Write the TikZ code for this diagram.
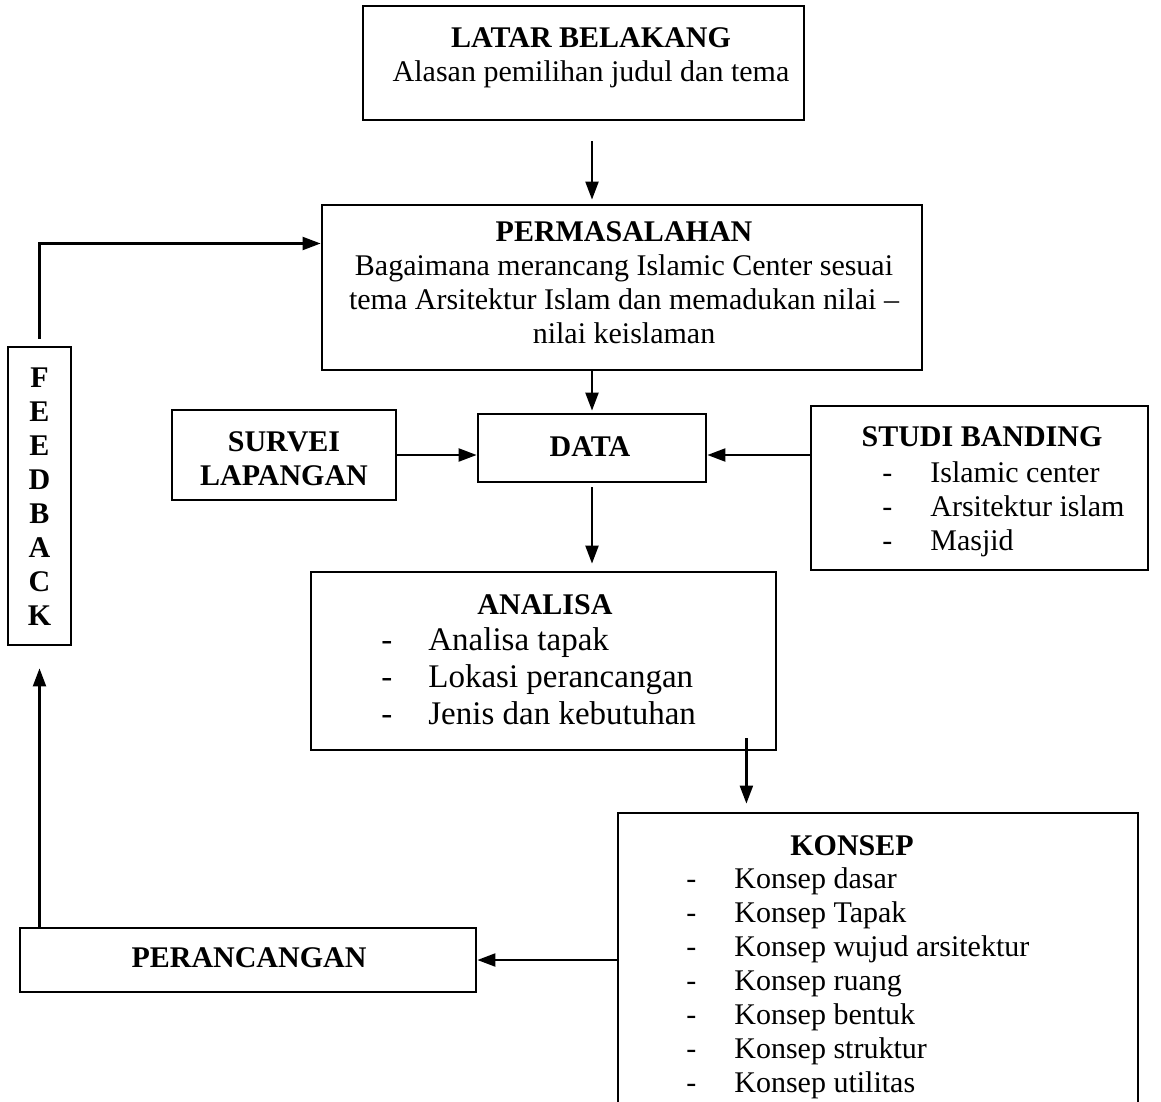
\documentclass[tikz,border=0pt]{standalone}
\usepackage{fontspec}
\setmainfont{Liberation Serif}
\usepackage{tikz}
\usetikzlibrary{arrows.meta,calc}

\tikzset{
  box/.style={draw, line width=1.4pt, inner sep=0pt},
  txt/.style={align=center, inner sep=0pt, font=\fontsize{15}{17}\selectfont},
  lst/.style={inner sep=0pt, anchor=north west, font=\fontsize{15}{17}\selectfont},
  arr/.style={line width=1.1pt, -{Triangle[length=9pt,width=6.5pt]}},
}
\newcommand{\daftar}[2]{\begin{tabular}{@{}l@{\hspace{#1}}l@{}}#2\end{tabular}}

\begin{document}
\begin{tikzpicture}[x=0.5pt,y=-0.5pt]
\useasboundingbox (0,0) rectangle (1161,1102);

% boxes
\node [box, minimum width=220.5pt, minimum height=57pt] (latar) at (583.5,63) {};
\node [box, minimum width=300pt, minimum height=82.5pt] (perm) at (622,287.5) {};
\node [box, minimum width=112pt, minimum height=45pt] (survei) at (284,455) {};
\node [box, minimum width=114pt, minimum height=34pt] (data) at (592,448) {};
\node [box, minimum width=168.5pt, minimum height=82pt] (studi) at (979.5,488) {};
\node [box, minimum width=232.5pt, minimum height=89pt] (analisa) at (543.5,661) {};
\node [box, minimum width=260pt, minimum height=151pt] (konsep) at (878,964) {};
\node [box, minimum width=228pt, minimum height=32pt] (peranc) at (248,960) {};
\node [box, minimum width=31.5pt, minimum height=149pt] (fb) at (39.5,496) {};

% texts
\node [txt] (tlatar) at (591,58) {\textbf{LATAR BELAKANG}\\Alasan pemilihan judul dan tema};
\node [txt] (tperm) at (624,283) {\textbf{PERMASALAHAN}\\Bagaimana merancang Islamic Center sesuai\\tema Arsitektur Islam dan memadukan nilai --\\nilai keislaman};
\node [txt] (tsurvei) at (284,459) {\textbf{SURVEI}\\\textbf{LAPANGAN}};
\node [txt] (tdata) at (590,447) {\textbf{DATA}};
\node [txt] (tstudi) at (982,437) {\textbf{STUDI BANDING}};
\node [lst] (lstudi) at (882,458) {\daftar{19pt}{-&Islamic center\\-&Arsitektur islam\\-&Masjid}};
\node [txt] (tanalisa) at (545,605) {\textbf{ANALISA}};
\node [lst, font=\fontsize{16.5}{18.5}\selectfont] (lanalisa) at (381,624) {\daftar{18pt}{-&Analisa tapak\\-&Lokasi perancangan\\-&Jenis dan kebutuhan}};
\node [txt] (tkonsep) at (852,846) {\textbf{KONSEP}};
\node [lst] (lkonsep) at (686,864) {\daftar{19pt}{-&Konsep dasar\\-&Konsep Tapak\\-&Konsep wujud arsitektur\\-&Konsep ruang\\-&Konsep bentuk\\-&Konsep struktur\\-&Konsep utilitas}};
\node [txt] (tperanc) at (249,958) {\textbf{PERANCANGAN}};
\node [txt, font=\fontsize{15}{17}\selectfont\bfseries] (tfb) at (39.5,497) {F\\E\\E\\D\\B\\A\\C\\K};

% arrows
\draw [arr, shorten <=10pt, shorten >=2pt] (latar.south -| data) -- (perm.north -| data);
\draw [arr, shorten >=1pt] (perm.south -| data) -- (data.north);
\draw [arr] (survei.east) -- (survei.east -| data.west);
\draw [arr] (studi.west |- survei.east) -- (survei.east -| data.east);
\draw [arr, shorten <=2pt, shorten >=3.5pt] (data.south) -- (data.south |- analisa.north);
\draw [arr, shorten >=4pt] ([xshift=-15.5pt,yshift=6.5pt]analisa.south east) -- ([xshift=-15.5pt]analisa.south east |- konsep.north);
\draw [arr] (konsep.west |- peranc.east) -- (peranc.east);
\draw [arr, shorten >=11pt] (peranc.north -| fb) -- (fb.south);
\draw [arr, shorten <=3.5pt] (fb.north) |- ([yshift=22pt]perm.west);
\end{tikzpicture}
\end{document}
